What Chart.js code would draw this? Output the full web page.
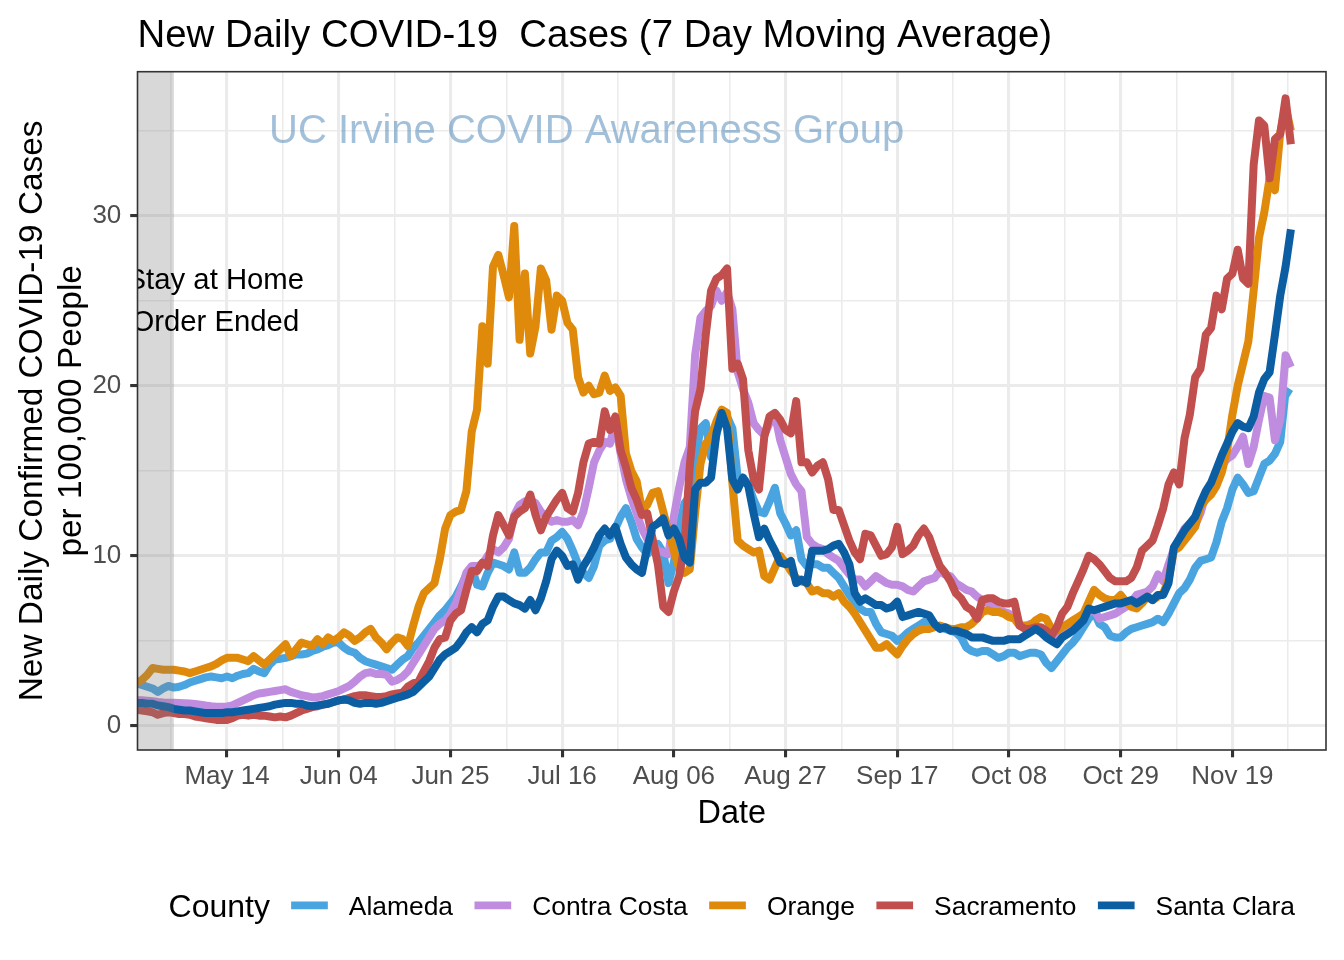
<!DOCTYPE html>
<html>
<head>
<meta charset="utf-8">
<script src="https://cdn.jsdelivr.net/npm/chart.js@4.4.1/dist/chart.umd.min.js"></script>
<style>
html, body { margin: 0; padding: 0; background: #ffffff; }
canvas { display: block; }
</style>
</head>
<body>
<canvas id="chart" width="1344" height="960"></canvas>
<script>
// ---------------- data (daily 7-day averages, 2020-04-27 .. 2020-11-30) ----------------
const START_DATE = '2020-04-27';

const ALAMEDA = [
  2.5, 2.4, 2.3, 2.2, 2.0, 2.2, 2.35, 2.25, 2.3, 2.4, 2.55, 2.65, 2.75, 2.85, 2.9, 2.85, 2.8,
  2.9, 2.8, 2.95, 3.05, 3.1, 3.35, 3.2, 3.1, 3.6, 3.9, 3.95, 4.0, 4.1, 4.2, 4.2, 4.25, 4.4, 4.5, 4.65, 4.75, 4.9, 4.9, 4.6, 4.4, 4.3,
  4.0, 3.8, 3.7, 3.6, 3.5, 3.4, 3.3, 3.6, 3.9, 4.1, 4.6, 4.9, 5.3, 5.7, 6.1, 6.5, 6.8, 7.2, 7.6, 8.2, 8.9, 9.3, 8.3, 8.2, 9.0, 9.6, 9.5, 9.4, 9.2, 10.2, 9.0, 9.0, 9.3, 9.8, 10.2,
  10.2, 10.9, 11.1, 11.4, 11.0, 10.3, 9.5, 9.0, 8.7, 9.4, 10.6, 10.9, 11.0, 11.6, 12.3, 12.8, 12.0, 11.0, 10.5, 10.1, 10.4, 10.7, 10.2, 8.4, 9.6, 11.7, 13.1, 13.5, 15.5, 17.5, 17.8, 15.8, 17.1, 18.4, 18.2, 17.5, 14.6, 14.6, 14.2, 13.3,
  12.6, 12.5, 13.2, 14.0, 12.5, 11.9, 11.2, 11.5, 9.8, 9.4, 9.5, 9.5, 9.3, 9.3, 9.0, 8.7, 8.2, 7.7, 7.3, 6.9, 6.7, 6.7, 6.0, 5.5, 5.4, 5.3, 5.0, 5.2, 5.5, 5.7, 5.9, 6.1, 6.0, 5.9, 5.8, 5.7, 5.6, 5.5, 5.2, 4.6,
  4.4, 4.3, 4.4, 4.4, 4.2, 4.0, 4.1, 4.3, 4.3, 4.1, 4.2, 4.3, 4.3, 4.2, 3.7, 3.4, 3.8, 4.2, 4.6, 4.9, 5.3, 5.8, 6.3, 6.7, 6.0, 5.8, 5.3, 5.2, 5.2, 5.5, 5.7, 5.8, 5.9, 6.0, 6.1, 6.3, 6.1, 6.6, 7.2, 7.8,
  8.1, 8.6, 9.3, 9.7, 9.8, 9.9, 10.8, 12.0, 12.8, 13.9, 14.6, 14.2, 13.7, 13.8, 14.6, 15.4, 15.6, 16.0, 16.7, 19.7, 19.5
];

const CONTRA_COSTA = [
  1.5, 1.5, 1.48, 1.45, 1.4, 1.37, 1.36, 1.36, 1.35, 1.33, 1.31, 1.29, 1.25, 1.2, 1.16, 1.13, 1.12,
  1.14, 1.2, 1.35, 1.5, 1.65, 1.8, 1.9, 1.95, 2.0, 2.05, 2.1, 2.15, 2.0, 1.9, 1.8, 1.75, 1.67, 1.7, 1.75, 1.85, 1.95, 2.05, 2.2, 2.35, 2.6,
  2.9, 3.1, 3.15, 3.05, 3.05, 3.0, 2.6, 2.7, 2.9, 3.2, 3.7, 4.2, 4.7, 5.2, 5.7, 6.0, 6.2, 6.6, 7.2, 8.0, 9.0, 9.4, 9.4, 9.5, 10.0, 10.4, 10.2, 10.5, 11.0, 12.4, 13.0, 13.2, 13.3, 13.1, 12.6,
  12.3, 12.0, 12.1, 12.0, 12.0, 12.1, 11.8, 12.6, 14.0, 15.5, 16.2, 16.7, 16.6, 17.8, 16.0, 14.5, 13.4, 12.5, 11.6, 11.0, 10.7, 10.3, 10.2, 10.1, 12.3, 14.0, 15.5, 16.4, 21.8, 24.0, 24.4, 24.7, 25.6, 25.0, 25.5, 24.5, 20.8, 19.8, 19.0, 17.8,
  17.4, 17.1, 17.8, 18.3, 16.8, 15.8, 14.8, 14.2, 13.8, 11.1, 10.7, 10.5, 10.4, 10.1, 9.9, 9.7, 9.3, 8.9, 8.6, 8.6, 8.2, 8.5, 8.8, 8.6, 8.4, 8.3, 8.3, 8.2, 8.0, 7.9, 8.2, 8.5, 8.6, 8.7, 9.1, 8.9, 8.8, 8.4, 8.2, 8.0,
  7.9, 7.6, 7.4, 7.2, 7.0, 6.8, 6.7, 6.6, 6.4, 5.9, 5.8, 6.0, 5.9, 5.7, 5.4, 5.1, 5.3, 5.5, 5.8, 6.0, 6.2, 6.5, 6.7, 6.8, 6.3, 6.4, 6.5, 6.6, 6.8, 7.0, 7.3, 7.7, 7.8, 7.9, 8.2, 8.9, 8.5, 9.5, 10.4, 11.0,
  11.6, 11.9, 11.8, 12.5, 13.6, 14.0, 14.7, 15.3, 15.7, 15.9, 16.4, 17.0, 15.4, 16.4, 18.0, 19.4, 19.3, 16.8, 18.0, 21.8, 21.1
];

const ORANGE = [
  2.5, 2.7, 3.0, 3.4, 3.35, 3.3, 3.3, 3.3, 3.25, 3.2, 3.1, 3.2, 3.3, 3.4, 3.5, 3.65, 3.85,
  4.0, 4.0, 4.0, 3.9, 3.8, 4.1, 3.85, 3.6, 3.9, 4.2, 4.5, 4.8, 4.1, 4.5, 4.9, 4.8, 4.7, 5.1, 4.8, 5.2, 5.0, 5.2, 5.5, 5.3, 5.0,
  5.2, 5.5, 5.7, 5.2, 4.9, 4.5, 4.9, 5.2, 5.1, 4.7, 5.9, 7.0, 7.8, 8.1, 8.4, 9.8, 11.6, 12.4, 12.6, 12.7, 13.8, 17.3, 18.6, 23.5, 21.3, 27.0, 27.7, 26.5, 25.2, 29.4, 22.7, 26.6, 21.9, 23.5, 26.9,
  26.2, 23.3, 25.3, 25.0, 23.7, 23.3, 20.5, 19.6, 20.0, 19.5, 19.6, 20.6, 19.7, 19.9, 19.4, 16.0, 15.0, 14.4, 12.7, 13.0, 13.7, 13.8, 12.6, 11.4, 10.3, 9.3, 9.0, 9.2, 12.5, 15.4, 16.6, 17.0, 17.9, 18.6, 18.4, 14.3, 10.9, 10.6, 10.4, 10.2,
  10.3, 8.8, 8.6, 9.3, 10.0, 9.6, 9.1, 8.7, 8.5, 8.4, 7.9, 8.0, 7.8, 7.8, 7.6, 7.8, 7.3, 7.0, 6.6, 6.1, 5.6, 5.1, 4.6, 4.6, 4.8, 4.5, 4.2, 4.7, 5.1, 5.4, 5.6, 5.7, 5.7, 5.8, 5.9, 5.8, 5.7, 5.7, 5.8, 5.8,
  6.0, 6.3, 6.7, 6.8, 6.7, 6.7, 6.6, 6.4, 6.3, 5.9, 5.9, 5.9, 6.2, 6.4, 6.3, 5.7, 5.6, 5.8, 6.0, 6.2, 6.4, 6.6, 7.3, 8.0, 7.7, 7.5, 7.4, 7.4, 7.7, 7.3, 7.0, 6.9, 7.2, 7.6, 7.4, 7.6, 7.8, 8.6, 10.3, 10.5,
  10.9, 11.3, 11.7, 12.9, 13.3, 13.6, 14.1, 14.9, 16.2, 18.3, 20.0, 21.3, 22.6, 25.6, 28.7, 30.2, 32.2, 31.5, 34.9, 36.4, 35.0
];

const SACRAMENTO = [
  0.95, 0.9, 0.85, 0.8, 0.65, 0.75, 0.8, 0.75, 0.7, 0.7, 0.65, 0.55, 0.5, 0.45, 0.4, 0.35, 0.35,
  0.35, 0.45, 0.6, 0.65, 0.6, 0.65, 0.6, 0.6, 0.55, 0.5, 0.55, 0.5, 0.6, 0.75, 0.9, 1.0, 1.1, 1.15, 1.25, 1.3, 1.4, 1.5, 1.55, 1.65, 1.75,
  1.8, 1.8, 1.75, 1.7, 1.7, 1.75, 1.85, 1.9, 1.95, 2.3, 2.5, 2.6, 3.2, 3.8, 4.6, 5.1, 5.2, 6.2, 6.6, 6.8, 8.0, 9.1, 9.1, 9.6, 9.4, 11.2, 12.4, 11.8, 11.2, 12.3, 12.6, 12.8, 13.6, 12.4, 11.5,
  12.3, 12.8, 13.3, 13.7, 12.8, 12.6, 13.7, 15.5, 16.6, 16.7, 16.6, 18.5, 17.4, 18.2, 16.2, 15.2, 14.0, 13.3, 12.4, 12.5, 11.0, 9.5, 7.0, 6.7, 7.9, 8.8, 10.6, 15.3, 18.5, 19.8, 23.0, 25.6, 26.3, 26.5, 26.9, 21.0, 21.3, 20.4, 16.2, 14.5,
  13.9, 17.0, 18.2, 18.4, 18.0, 17.4, 17.2, 19.1, 15.5, 15.5, 14.9, 15.3, 15.5, 14.5, 12.7, 12.7, 11.8, 10.9, 10.2, 9.8, 11.3, 11.2, 10.6, 10.0, 10.1, 10.5, 11.7, 10.1, 10.3, 10.6, 11.2, 11.6, 11.1, 10.2, 9.4, 9.0, 8.5, 7.8, 7.5, 7.0,
  6.8, 6.3, 7.4, 7.5, 7.5, 7.3, 7.2, 7.2, 7.3, 5.9, 5.7, 5.7, 5.8, 5.8, 5.6, 5.3, 5.8, 6.6, 7.0, 7.8, 8.5, 9.2, 10.0, 9.8, 9.5, 9.1, 8.7, 8.5, 8.5, 8.5, 8.7, 9.3, 10.3, 10.6, 10.9, 11.8, 12.8, 14.2, 14.9, 14.2,
  16.9, 18.3, 20.5, 21.0, 23.0, 23.4, 25.3, 24.5, 26.3, 26.6, 28.0, 26.3, 26.0, 33.0, 35.6, 35.3, 32.2, 34.5, 34.8, 36.9, 34.2
];

const SANTA_CLARA = [
  1.35, 1.35, 1.3, 1.3, 1.2, 1.15, 1.1, 1.0, 0.95, 0.9, 0.9, 0.85, 0.8, 0.75, 0.75, 0.75, 0.75,
  0.8, 0.8, 0.85, 0.9, 0.95, 1.0, 1.05, 1.1, 1.15, 1.25, 1.3, 1.35, 1.35, 1.3, 1.3, 1.2, 1.15, 1.2, 1.25, 1.3, 1.4, 1.5, 1.55, 1.5, 1.35,
  1.3, 1.35, 1.35, 1.3, 1.35, 1.45, 1.55, 1.65, 1.75, 1.85, 2.0, 2.3, 2.6, 2.9, 3.4, 3.9, 4.2, 4.4, 4.6, 5.0, 5.5, 5.8, 5.5, 6.0, 6.2, 7.0, 7.6, 7.6, 7.4, 7.2, 7.1, 6.9, 7.4, 6.8, 7.5,
  8.5, 9.8, 10.3, 10.0, 9.4, 9.5, 8.6, 9.4, 9.9, 10.5, 11.2, 11.6, 11.2, 11.7, 10.7, 9.9, 9.5, 9.2, 9.0, 10.5, 11.7, 11.9, 12.2, 11.2, 11.6, 11.0, 9.9, 9.6, 13.9, 14.3, 14.3, 14.6, 17.2, 18.4, 17.5, 14.5, 13.9, 14.6, 14.1, 12.5,
  11.1, 11.6, 10.9, 10.3, 9.6, 9.5, 9.7, 8.4, 8.6, 8.4, 10.3, 10.3, 10.3, 10.4, 10.6, 10.7, 10.2, 9.5, 7.8, 7.3, 7.5, 7.3, 7.1, 7.1, 6.9, 7.0, 7.3, 6.4, 6.5, 6.6, 6.7, 6.6, 6.5, 6.0, 5.7, 5.8, 5.6, 5.6, 5.5, 5.4,
  5.2, 5.2, 5.2, 5.1, 5.0, 5.0, 5.0, 5.1, 5.1, 5.1, 5.3, 5.5, 5.7, 5.5, 5.2, 5.0, 4.8, 5.2, 5.4, 5.6, 5.9, 6.2, 6.9, 6.8, 6.9, 7.0, 7.1, 7.2, 7.2, 7.3, 7.4, 7.2, 7.4, 7.6, 7.4, 7.7, 7.7, 8.4, 10.5, 11.0,
  11.5, 11.9, 12.3, 13.1, 13.8, 14.3, 15.1, 15.9, 16.6, 17.3, 17.8, 17.6, 17.5, 18.2, 19.6, 20.4, 20.8, 23.0, 25.3, 27.0, 29.2
];

const COUNTIES = ['Alameda', 'Contra Costa', 'Orange', 'Sacramento', 'Santa Clara'];
const SERIES = [ALAMEDA, CONTRA_COSTA, ORANGE, SACRAMENTO, SANTA_CLARA];
const COLORS = ['#4AA4E0', '#C08CE0', '#E08A0B', '#C14F4D', '#0C5EA3'];

const X_TICK_DATES = ['2020-05-14', '2020-06-04', '2020-06-25', '2020-07-16', '2020-08-06',
                      '2020-08-27', '2020-09-17', '2020-10-08', '2020-10-29', '2020-11-19'];
const X_TICK_LABELS = ['May 14', 'Jun 04', 'Jun 25', 'Jul 16', 'Aug 06',
                       'Aug 27', 'Sep 17', 'Oct 08', 'Oct 29', 'Nov 19'];
const Y_TICKS = [0, 10, 20, 30];
const Y_TICK_LABELS = ['0', '10', '20', '30'];

const STAY_AT_HOME_END = '2020-05-04';

// ---------------- helpers ----------------
const DAY_MS = 86400000;
function toUTC(iso) { const p = iso.split('-').map(Number); return Date.UTC(p[0], p[1] - 1, p[2]); }
function dayIndex(iso) { return (toUTC(iso) - toUTC(START_DATE)) / DAY_MS; }

const X_MIN = 0.17, X_MAX = 223.6;
const Y_MIN = -1.42, Y_MAX = 38.47;

const xMajor = X_TICK_DATES.map(dayIndex);
const xMinor = [];
for (let i = 0; i <= xMajor.length; i++) {
  const v = xMajor[0] + (i - 0.5) * 21;
  if (v > X_MIN && v < X_MAX) xMinor.push(v);
}
const xAll = xMajor.concat(xMinor).sort((a, b) => a - b);
const yMinor = Y_TICKS.map(v => v + 5).filter(v => v < Y_MAX);
const yAll = Y_TICKS.concat(yMinor).sort((a, b) => a - b);

function isMajorX(v) { return xMajor.some(m => Math.abs(m - v) < 1e-6); }
function isMajorY(v) { return Y_TICKS.some(m => Math.abs(m - v) < 1e-6); }

const FONT = '"Liberation Sans", Arial, Helvetica, sans-serif';
const GRID = '#EBEBEB';
const DARK = '#333333';
const TICK_TXT = '#4D4D4D';

const datasets = SERIES.map((vals, k) => ({
  label: COUNTIES[k],
  data: vals.map((v, i) => ({ x: i, y: v })),
  borderColor: COLORS[k],
  backgroundColor: COLORS[k],
  borderWidth: 8,
  borderJoinStyle: 'round',
  borderCapStyle: 'butt',
  pointRadius: 0,
  pointHoverRadius: 0,
  tension: 0,
  fill: false,
  clip: 0,
  order: SERIES.length - k
}));

const decor = {
  id: 'decor',
  beforeDraw(chart) {
    const ctx = chart.ctx;
    ctx.save();
    ctx.fillStyle = '#ffffff';
    ctx.fillRect(0, 0, chart.width, chart.height);
    ctx.restore();
  },
  afterDatasetsDraw(chart) {
    const { ctx, chartArea: a, scales: { x, y } } = chart;
    ctx.save();
    ctx.beginPath();
    ctx.rect(a.left, a.top, a.right - a.left, a.bottom - a.top);
    ctx.clip();
    // stay-at-home shaded period
    const xr = x.getPixelForValue(dayIndex(STAY_AT_HOME_END));
    ctx.fillStyle = 'rgba(127,127,127,0.3)';
    ctx.fillRect(a.left, a.top, xr - a.left, a.bottom - a.top);
    // annotation
    ctx.fillStyle = '#000000';
    ctx.font = '29.3px ' + FONT;
    ctx.textAlign = 'center';
    ctx.textBaseline = 'alphabetic';
    const tx = x.getPixelForValue(14.8), ty = y.getPixelForValue(25);
    ctx.fillText('Stay at Home', tx, ty - 12.2);
    ctx.fillText('Order Ended', tx, ty + 30.5);
    // watermark
    ctx.fillStyle = 'rgba(70,130,180,0.5)';
    ctx.font = '40px ' + FONT;
    ctx.fillText('UC Irvine COVID Awareness Group', x.getPixelForValue(84.6), y.getPixelForValue(35) + 12.6);
    ctx.restore();
    // panel border
    ctx.save();
    ctx.strokeStyle = DARK;
    ctx.lineWidth = 1.6;
    ctx.strokeRect(a.left, a.top, a.right - a.left, a.bottom - a.top);
    ctx.restore();
  },
  afterDraw(chart) {
    const { ctx, chartArea: a } = chart;
    const cx = (a.left + a.right) / 2;
    const cy = (a.top + a.bottom) / 2;
    ctx.save();
    ctx.fillStyle = '#000000';
    ctx.textBaseline = 'alphabetic';
    // title
    ctx.font = '38.4px ' + FONT;
    ctx.textAlign = 'left';
    ctx.fillText('New Daily COVID-19  Cases (7 Day Moving Average)', a.left, 47);
    // x axis title
    ctx.font = '32.4px ' + FONT;
    ctx.textAlign = 'center';
    ctx.fillText('Date', cx, 823);
    // y axis title
    ctx.font = '33.4px ' + FONT;
    ctx.save();
    ctx.translate(41.5, cy);
    ctx.rotate(-Math.PI / 2);
    ctx.fillText('New Daily Confirmed COVID-19 Cases', 0, 0);
    ctx.restore();
    ctx.save();
    ctx.translate(80.5, cy);
    ctx.rotate(-Math.PI / 2);
    ctx.fillText('per 100,000 People', 0, 0);
    ctx.restore();
    // legend
    const ly = 905.4;
    const keyW = 36.7, gapTitle = 21.2, gapKey = 21.0, gapItem = 21.5;
    const LEG_TXT = 26.4;
    ctx.font = '32px ' + FONT;
    const titleW = ctx.measureText('County').width;
    ctx.font = LEG_TXT + 'px ' + FONT;
    const labW = COUNTIES.map(c => ctx.measureText(c).width);
    let total = titleW;
    labW.forEach((w, i) => { total += (i === 0 ? gapTitle : gapItem) + keyW + gapKey + w; });
    let px = cx - total / 2;
    ctx.textAlign = 'left';
    ctx.font = '32px ' + FONT;
    ctx.fillText('County', px, ly + 11.5);
    px += titleW;
    COUNTIES.forEach((c, i) => {
      px += (i === 0 ? gapTitle : gapItem);
      ctx.strokeStyle = COLORS[i];
      ctx.lineWidth = 7.9;
      ctx.lineCap = 'butt';
      ctx.beginPath();
      ctx.moveTo(px, ly);
      ctx.lineTo(px + keyW, ly);
      ctx.stroke();
      px += keyW + gapKey;
      ctx.font = LEG_TXT + 'px ' + FONT;
      ctx.fillStyle = '#000000';
      ctx.fillText(c, px, ly + 9.5);
      px += labW[i];
    });
    ctx.restore();
  }
};

new Chart(document.getElementById('chart').getContext('2d'), {
  type: 'line',
  data: { datasets },
  options: {
    responsive: false,
    animation: false,
    devicePixelRatio: 1,
    layout: { padding: { left: 0, right: 18, top: 71.7, bottom: 0 } },
    plugins: {
      legend: { display: false },
      tooltip: { enabled: false },
      title: { display: false }
    },
    scales: {
      x: {
        type: 'linear',
        min: X_MIN,
        max: X_MAX,
        afterBuildTicks: s => { s.ticks = xAll.map(v => ({ value: v })); },
        afterFit: s => { s.height = 210; },
        border: { display: false },
        grid: {
          color: GRID,
          lineWidth: c => (c.tick && isMajorX(c.tick.value)) ? 3.1 : 1.55,
          drawTicks: true,
          tickLength: 7.3,
          tickWidth: 3.1,
          tickColor: c => (c.tick && isMajorX(c.tick.value)) ? DARK : 'rgba(0,0,0,0)'
        },
        ticks: {
          autoSkip: false,
          maxRotation: 0,
          minRotation: 0,
          padding: 3.6,
          color: TICK_TXT,
          font: { family: FONT, size: 26 },
          callback: v => { const i = xMajor.findIndex(m => Math.abs(m - v) < 1e-6); return i >= 0 ? X_TICK_LABELS[i] : ''; }
        }
      },
      y: {
        type: 'linear',
        min: Y_MIN,
        max: Y_MAX,
        afterBuildTicks: s => { s.ticks = yAll.map(v => ({ value: v })); },
        afterFit: s => { s.width = 137.5; },
        border: { display: false },
        grid: {
          color: GRID,
          lineWidth: c => (c.tick && isMajorY(c.tick.value)) ? 3.1 : 1.55,
          drawTicks: true,
          tickLength: 7.3,
          tickWidth: 3.1,
          tickColor: c => (c.tick && isMajorY(c.tick.value)) ? DARK : 'rgba(0,0,0,0)'
        },
        ticks: {
          autoSkip: false,
          padding: 8.9,
          color: TICK_TXT,
          font: { family: FONT, size: 26 },
          callback: v => { const i = Y_TICKS.findIndex(m => Math.abs(m - v) < 1e-6); return i >= 0 ? Y_TICK_LABELS[i] : ''; }
        }
      }
    }
  },
  plugins: [decor]
});
</script>
</body>
</html>
